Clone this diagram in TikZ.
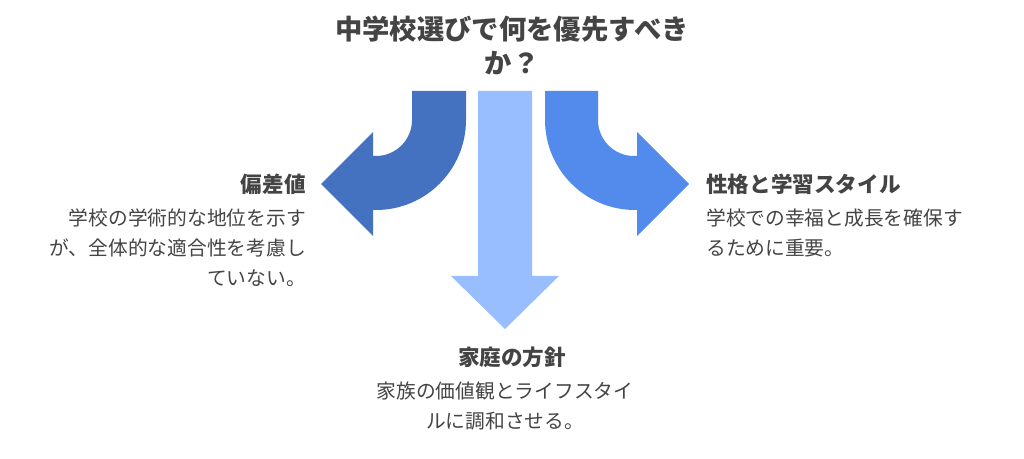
\documentclass[tikz,border=0pt]{standalone}
\usepackage{fontspec}
\setmainfont{Noto Sans CJK JP}
\definecolor{leftblue}{HTML}{4472C0}
\definecolor{midblue}{HTML}{99BEFF}
\definecolor{rightblue}{HTML}{528BEB}
\definecolor{textgray}{HTML}{444444}
\begin{document}
\begin{tikzpicture}[x=0.75pt,y=-0.75pt]

	\tikzstyle{heading} = [font=\fontsize{16.2}{20}\selectfont\bfseries, text=textgray, inner sep=0pt]
	\tikzstyle{body} = [font=\fontsize{14.8}{22.5}\selectfont, text=textgray, inner sep=0pt]

	\useasboundingbox (0,0) rectangle (1024,459);

	% arrows
	\fill[leftblue] (412,91) -- (466,91) -- (466,120) arc[start angle=0, end angle=90, radius=90]
		-- (373,210) -- (373,236) -- (321,184) -- (373,132) -- (373,156)
		-- (376,156) arc[start angle=90, end angle=0, radius=36] -- cycle;
	\fill[midblue] (478,91) -- (532,91) -- (532,276) -- (559,276) -- (505,329) -- (451,276) -- (478,276) -- cycle;
	\fill[rightblue] (598,91) -- (545,91) -- (545,120) arc[start angle=180, end angle=90, radius=90]
		-- (637,210) -- (637,236) -- (689,184) -- (637,132) -- (637,156)
		-- (634,156) arc[start angle=90, end angle=180, radius=36] -- cycle;

	% texts
	\node[heading, font=\fontsize{20.5}{25.5}\selectfont\bfseries, align=center] at (512,45) (title) {中学校選びで何を優先すべき\\か？};

	\node[heading, anchor=east] at (306,184) (hensachi) {偏差値};
	\node[body, anchor=north east, align=right] at (306,209) (hensachitext) {学校の学術的な地位を示す\\が、全体的な適合性を考慮し\\ていない。};

	\node[heading, anchor=west] at (706,184) (seikaku) {性格と学習スタイル};
	\node[body, anchor=north west, align=left] at (706,209) (seikakutext) {学校での幸福と成長を確保す\\るために重要。};

	\node[heading] at (512,357) (katei) {家庭の方針};
	\node[body, anchor=north, align=center] at (505,382) (kateitext) {家族の価値観とライフスタイ\\ルに調和させる。};
\end{tikzpicture}
\end{document}
